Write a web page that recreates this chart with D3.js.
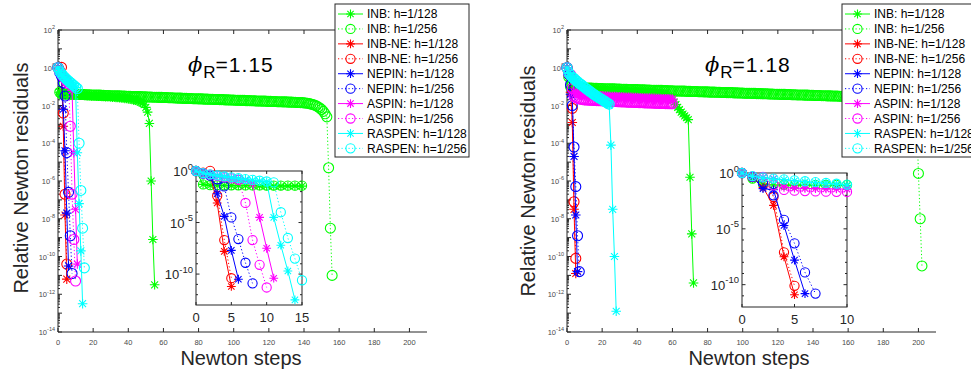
<!DOCTYPE html>
<html>
<head>
<meta charset="utf-8">
<script src="https://cdn.jsdelivr.net/npm/d3@7"></script>
<style>
  body { margin: 0; background: #fff; }
  svg { display: block; }
  text { font-family: "Liberation Sans", Arial, Helvetica, sans-serif; }
</style>
</head>
<body>
<svg id="chart" width="971" height="374"></svg>
<script>
// ---- categories, labels and ticks ----
const methods = ["INB", "INB-NE", "NEPIN", "ASPIN", "RASPEN"];
const meshes = ["h=1/128", "h=1/256"];
const methodColors = ["#00ff00", "#ff0000", "#0000ff", "#ff00ff", "#00ffff"];
const phiValues = ["1.15", "1.18"];
const stepTicks = [0, 20, 40, 60, 80, 100, 120, 140, 160, 180, 200];
const residualTickExps = [2, 0, -2, -4, -6, -8, -10, -12, -14];
const zoomStepTicks115 = [0, 5, 10, 15];
const zoomStepTicks118 = [0, 5, 10];
const zoomResidualTickExps = [0, -5, -10];

// ---- log10 of relative Newton residual, indexed by Newton step ----
// phi_R = 1.15
const inb128_115 = [0,-1.30,-1.40,-1.41,-1.41,-1.42,-1.42,-1.43,-1.43,-1.44,
  -1.44,-1.45,-1.45,-1.46,-1.46,-1.47,-1.47,-1.48,-1.48,-1.49,
  -1.49,-1.50,-1.50,-1.51,-1.51,-1.52,-1.52,-1.53,-1.54,-1.54,
  -1.55,-1.56,-1.56,-1.57,-1.58,-1.59,-1.60,-1.61,-1.62,-1.63,
  -1.65,-1.66,-1.68,-1.70,-1.72,-1.75,-1.78,-1.82,-1.88,-1.96,
  -2.10,-2.35,-2.95,-6.00,-9.10,-11.50];
const inb256_115 = [0,-1.30,-1.38,-1.38,-1.39,-1.39,-1.39,-1.40,-1.40,-1.40,
  -1.41,-1.41,-1.41,-1.42,-1.42,-1.42,-1.43,-1.43,-1.43,-1.44,
  -1.44,-1.44,-1.45,-1.45,-1.45,-1.46,-1.46,-1.47,-1.47,-1.47,
  -1.48,-1.48,-1.48,-1.49,-1.49,-1.49,-1.50,-1.50,-1.50,-1.51,
  -1.51,-1.51,-1.52,-1.52,-1.52,-1.53,-1.53,-1.53,-1.54,-1.54,
  -1.54,-1.55,-1.55,-1.55,-1.56,-1.56,-1.56,-1.57,-1.57,-1.57,
  -1.58,-1.58,-1.58,-1.59,-1.59,-1.59,-1.60,-1.60,-1.61,-1.61,
  -1.61,-1.62,-1.62,-1.62,-1.63,-1.63,-1.63,-1.64,-1.64,-1.64,
  -1.65,-1.65,-1.65,-1.66,-1.66,-1.66,-1.67,-1.67,-1.67,-1.68,
  -1.68,-1.68,-1.69,-1.69,-1.69,-1.70,-1.70,-1.70,-1.71,-1.71,
  -1.71,-1.72,-1.72,-1.72,-1.73,-1.73,-1.73,-1.74,-1.74,-1.74,
  -1.75,-1.75,-1.75,-1.76,-1.76,-1.76,-1.77,-1.77,-1.77,-1.78,
  -1.78,-1.78,-1.79,-1.79,-1.79,-1.80,-1.80,-1.80,-1.81,-1.81,
  -1.81,-1.82,-1.82,-1.82,-1.83,-1.83,-1.84,-1.84,-1.85,-1.85,
  -1.86,-1.87,-1.88,-1.90,-1.92,-1.95,-1.98,-2.02,-2.07,-2.13,
  -2.21,-2.31,-2.44,-2.60,-5.30,-8.50,-11.00];
const inbne128_115 = [0,-0.20,-0.40,-3.10,-7.80,-11.20];
const inbne256_115 = [0,-0.15,0.02,-2.40,-6.70,-10.40];
const nepin128_115 = [0,-0.25,-0.50,-2.20,-4.40,-7.70,-10.50];
const nepin256_115 = [0,-0.25,-0.45,-0.80,-1.50,-4.50,-6.60,-8.90,-10.90];
const aspin128_115 = [0,-0.20,-0.35,-0.50,-0.62,-0.73,-0.83,-0.93,-1.20,-4.50,-7.50,-10.40];
const aspin256_115 = [0,-0.20,-0.35,-0.48,-0.60,-0.72,-0.85,-3.10,-6.70,-9.10,-11.30];
const raspen128_115 = [0,-0.20,-0.33,-0.45,-0.55,-0.65,-0.74,-0.82,-0.90,-0.98,-1.05,-4.50,-7.20,-9.70,-12.50];
const raspen256_115 = [0,-0.20,-0.32,-0.43,-0.53,-0.62,-0.70,-0.78,-0.86,-0.94,-1.02,-1.10,-4.00,-6.50,-8.50,-10.60];

// phi_R = 1.18
const inb128_118 = [0,-0.50,-1.00,-1.08,-1.09,-1.10,-1.10,-1.11,-1.11,-1.12,
  -1.12,-1.13,-1.13,-1.14,-1.14,-1.15,-1.15,-1.16,-1.16,-1.17,
  -1.17,-1.18,-1.18,-1.19,-1.19,-1.20,-1.20,-1.21,-1.21,-1.22,
  -1.22,-1.23,-1.23,-1.24,-1.24,-1.25,-1.25,-1.26,-1.26,-1.27,
  -1.27,-1.28,-1.28,-1.29,-1.29,-1.30,-1.30,-1.31,-1.32,-1.32,
  -1.33,-1.34,-1.35,-1.36,-1.37,-1.38,-1.40,-1.45,-1.52,-1.60,
  -1.70,-1.82,-1.95,-2.10,-2.22,-2.35,-2.45,-2.55,-2.65,-2.75,
  -5.80,-8.80,-11.40];
const inb256_118 = [0,-0.50,-1.00,-1.05,-1.05,-1.06,-1.06,-1.06,-1.07,-1.07,
  -1.07,-1.08,-1.08,-1.08,-1.08,-1.09,-1.09,-1.09,-1.10,-1.10,
  -1.10,-1.11,-1.11,-1.11,-1.11,-1.12,-1.12,-1.12,-1.13,-1.13,
  -1.13,-1.14,-1.14,-1.14,-1.14,-1.15,-1.15,-1.15,-1.16,-1.16,
  -1.16,-1.17,-1.17,-1.17,-1.17,-1.18,-1.18,-1.18,-1.19,-1.19,
  -1.19,-1.20,-1.20,-1.20,-1.20,-1.21,-1.21,-1.21,-1.22,-1.22,
  -1.22,-1.23,-1.23,-1.23,-1.23,-1.24,-1.24,-1.24,-1.25,-1.25,
  -1.25,-1.26,-1.26,-1.26,-1.26,-1.27,-1.27,-1.27,-1.28,-1.28,
  -1.28,-1.29,-1.29,-1.29,-1.29,-1.30,-1.30,-1.30,-1.31,-1.31,
  -1.31,-1.32,-1.32,-1.32,-1.32,-1.33,-1.33,-1.33,-1.34,-1.34,
  -1.34,-1.35,-1.35,-1.35,-1.35,-1.36,-1.36,-1.36,-1.37,-1.37,
  -1.37,-1.38,-1.38,-1.38,-1.38,-1.39,-1.39,-1.39,-1.40,-1.40,
  -1.40,-1.41,-1.41,-1.41,-1.41,-1.42,-1.42,-1.42,-1.43,-1.43,
  -1.43,-1.44,-1.44,-1.44,-1.44,-1.45,-1.45,-1.45,-1.46,-1.46,
  -1.46,-1.47,-1.47,-1.47,-1.47,-1.48,-1.48,-1.48,-1.49,-1.49,
  -1.49,-1.50,-1.50,-1.50,-1.50,-1.51,-1.51,-1.51,-1.52,-1.52,
  -1.52,-1.53,-1.53,-1.53,-1.54,-1.54,-1.54,-1.55,-1.55,-1.56,
  -1.56,-1.57,-1.57,-1.58,-1.58,-1.59,-1.60,-1.60,-1.61,-1.62,
  -1.63,-1.64,-1.65,-1.66,-1.67,-1.69,-1.70,-1.72,-1.74,-1.76,
  -1.79,-1.82,-1.86,-1.90,-1.95,-2.01,-2.09,-2.20,-2.35,-2.60,
  -5.60,-8.00,-10.50];
const inbne128_118 = [0,-0.35,-1.30,-2.90,-7.50,-10.90];
const inbne256_118 = [0,-0.35,-0.40,-2.15,-7.10,-10.10];
const nepin128_118 = [0,-0.35,-1.40,-1.50,-4.70,-7.80,-10.80];
const nepin256_118 = [0,-0.35,-0.90,-2.00,-4.20,-6.30,-8.90,-10.80];
const aspin128_118 = [0,-0.30,-0.40,-0.50,-1.28,-1.35,-1.38,-1.40,-1.42,-1.43,
  -1.44,-1.45,-1.45,-1.46,-1.46,-1.47,-1.47,-1.48,-1.48,-1.49,
  -1.49,-1.50,-1.50,-1.51,-1.51,-1.52,-1.52,-1.53,-1.53,-1.54,
  -1.54,-1.55,-1.55,-1.56,-1.56,-1.56,-1.57,-1.57,-1.58,-1.58,
  -1.58,-1.59,-1.59,-1.60,-1.60,-1.60,-1.61,-1.61,-1.62,-1.62,
  -1.62,-1.63,-1.63,-1.63,-1.64,-1.64,-1.64,-1.65,-1.65,-1.66,-1.66];
const aspin256_118 = [0,-0.30,-0.36,-1.10,-1.52,-1.58,-1.62,-1.65,-1.67,-1.69,
  -1.70,-1.71,-1.71,-1.72,-1.72,-1.73,-1.73,-1.74,-1.74,-1.75,
  -1.75,-1.76,-1.76,-1.77,-1.77,-1.78,-1.78,-1.79,-1.79,-1.80,
  -1.80,-1.81,-1.81,-1.81,-1.82,-1.82,-1.83,-1.83,-1.83,-1.84,
  -1.84,-1.85,-1.85,-1.85,-1.86,-1.86,-1.86,-1.87,-1.87,-1.87,
  -1.88,-1.88,-1.88,-1.89,-1.89,-1.89,-1.90,-1.90,-1.90,-1.91,-1.91];
const raspen128_118 = [0,-0.30,-0.45,-0.55,-0.60,-0.70,-0.78,-0.86,-0.93,-1.00,
  -1.08,-1.15,-1.22,-1.29,-1.36,-1.43,-1.49,-1.55,-1.61,-1.67,
  -1.73,-1.79,-1.85,-1.91,-1.97,-4.10,-7.50,-10.00,-12.90];
const raspen256_118 = [0,-0.28,-0.40,-0.50,-0.57,-0.66,-0.74,-0.82,-0.89,-0.96,
  -1.04,-1.11,-1.18,-1.25,-1.32,-1.39,-1.45,-1.51,-1.57,-1.63,
  -1.69,-1.75,-1.81,-1.87,-1.93];

// ---- layout ----
const panels = [
  {
    phi: phiValues[0],
    logs: [inb128_115, inb256_115, inbne128_115, inbne256_115, nepin128_115,
           nepin256_115, aspin128_115, aspin256_115, raspen128_115, raspen256_115],
    main: { left: 58, right: 427, top: 30, bottom: 332 },
    zoom: { left: 196, right: 302, top: 171, bottom: 305 },
    zoomX: [0, 15], zoomMin: 1e-13, zoomTicks: zoomStepTicks115,
    legend: { left: 335, top: 4 },
    title: { x: 188, y: 72 },
    yLabel: { x: 27.5, y: 178 },
    xLabel: { x: 241, y: 365 }
  },
  {
    phi: phiValues[1],
    logs: [inb128_118, inb256_118, inbne128_118, inbne256_118, nepin128_118,
           nepin256_118, aspin128_118, aspin256_118, raspen128_118, raspen256_118],
    main: { left: 567, right: 936, top: 30, bottom: 332 },
    zoom: { left: 742, right: 847, top: 173, bottom: 307 },
    zoomX: [0, 10], zoomMin: 1e-12, zoomTicks: zoomStepTicks118,
    legend: { left: 842, top: 4 },
    title: { x: 705, y: 72 },
    yLabel: { x: 534.5, y: 181 },
    xLabel: { x: 749, y: 365 }
  }
];

const AXIS = "#262626";
const TICKTEXT = "#4a4a4a";
const svg = d3.select("#chart");
const defs = svg.append("defs");

function buildSeries(logs) {
  const out = [];
  methods.forEach((m, mi) => {
    meshes.forEach((h, hi) => {
      const vals = logs[mi * 2 + hi];
      out.push({
        label: m + ": " + h,
        color: methodColors[mi],
        fine: hi === 1,
        points: vals.map((v, i) => ({ step: i, res: Math.pow(10, v) }))
      });
    });
  });
  return out;
}

function drawMarker(g, fine, cx, cy, color, s) {
  if (fine) {
    g.append("circle").attr("cx", cx).attr("cy", cy).attr("r", s)
      .attr("fill", "none").attr("stroke", color).attr("stroke-width", 1.1);
  } else {
    const k = s * 0.72;
    g.append("path")
      .attr("d", `M${cx - s},${cy}H${cx + s}M${cx},${cy - s}V${cy + s}` +
                 `M${cx - k},${cy - k}L${cx + k},${cy + k}M${cx - k},${cy + k}L${cx + k},${cy - k}`)
      .attr("stroke", color).attr("stroke-width", 1.1).attr("fill", "none");
  }
}

function drawSeries(g, series, x, y, clipId, xmax, size) {
  const line = d3.line().x(d => x(d.step)).y(d => y(d.res));
  series.forEach(s => {
    const sg = g.append("g");
    sg.append("path").datum(s.points)
      .attr("d", line)
      .attr("clip-path", `url(#${clipId})`)
      .attr("fill", "none").attr("stroke", s.color).attr("stroke-width", 1)
      .attr("stroke-dasharray", s.fine ? "1.2 2.3" : null);
    s.points.filter(p => p.step <= xmax).forEach(p => {
      drawMarker(sg, s.fine, x(p.step), y(p.res), s.color, s.fine ? size : size - 0.2);
    });
  });
}

function powLabel(g, x, y, exp, size, supSize, color) {
  const t = g.append("text").attr("x", x).attr("y", y)
    .attr("text-anchor", "end").attr("font-size", size).attr("fill", color);
  t.append("tspan").text("10");
  t.append("tspan").attr("font-size", supSize).attr("dy", -size * 0.5).text(String(exp));
}

function addClip(id, r) {
  defs.append("clipPath").attr("id", id).append("rect")
    .attr("x", r.left).attr("y", r.top)
    .attr("width", r.right - r.left).attr("height", r.bottom - r.top);
}

panels.forEach((p, pi) => {
  const g = svg.append("g");
  const series = buildSeries(p.logs);
  const M = p.main;

  // main axes
  const x = d3.scaleLinear().domain([0, 210]).range([M.left, M.right]);
  const y = d3.scaleLog().domain([1e-14, 1e2]).range([M.bottom, M.top]);
  const frame = g.append("g").attr("stroke", AXIS).attr("stroke-width", 1).attr("fill", "none");
  frame.append("path").attr("d", `M${M.left},${M.top}V${M.bottom}H${M.right}M${M.left},${M.top}H${M.right}`);
  stepTicks.forEach(t => {
    const xx = x(t);
    frame.append("path").attr("d", `M${xx},${M.bottom}v-4M${xx},${M.top}v4`);
    g.append("text").attr("x", xx).attr("y", M.bottom + 13).attr("text-anchor", "middle")
      .attr("font-size", 7.5).attr("fill", TICKTEXT).text(t);
  });
  for (let e = -14; e <= 2; e++) {
    frame.append("path").attr("d", `M${M.left},${y(Math.pow(10, e))}h4`);
    if (e < 2) {
      for (let m = 2; m <= 9; m++) {
        frame.append("path").attr("d", `M${M.left},${y(m * Math.pow(10, e))}h2`);
      }
    }
  }
  residualTickExps.forEach(e => {
    powLabel(g, M.left - 3, y(Math.pow(10, e)) + 3, e, 7.5, 5.5, TICKTEXT);
  });

  // axis labels and title
  g.append("text").attr("transform", `translate(${p.yLabel.x},${p.yLabel.y}) rotate(-90)`)
    .attr("text-anchor", "middle").attr("font-size", 20).attr("fill", AXIS)
    .text("Relative Newton residuals");
  g.append("text").attr("x", p.xLabel.x).attr("y", p.xLabel.y)
    .attr("text-anchor", "middle").attr("font-size", 20).attr("fill", AXIS)
    .text("Newton steps");
  const title = g.append("text").attr("x", p.title.x).attr("y", p.title.y)
    .attr("font-size", 21).attr("fill", "#000");
  title.append("tspan").attr("font-style", "italic")
    .attr("font-family", "'DejaVu Serif', serif").text("\u03D5");
  title.append("tspan").attr("font-size", 17).attr("dy", 6).attr("dx", 1).text("R");
  title.append("tspan").attr("dy", -6).attr("letter-spacing", 1).text("=" + p.phi);

  const clipMain = "clipMain" + pi;
  addClip(clipMain, M);
  drawSeries(g.append("g"), series, x, y, clipMain, Infinity, 5);

  // zoomed inset
  const Z = p.zoom;
  const zx = d3.scaleLinear().domain(p.zoomX).range([Z.left, Z.right]);
  const zy = d3.scaleLog().domain([p.zoomMin, 1]).range([Z.bottom, Z.top]);
  const ig = svg.append("g");
  ig.append("rect").attr("x", Z.left).attr("y", Z.top)
    .attr("width", Z.right - Z.left).attr("height", Z.bottom - Z.top).attr("fill", "#fff");
  const zf = ig.append("g").attr("stroke", AXIS).attr("stroke-width", 1).attr("fill", "none");
  zf.append("rect").attr("x", Z.left).attr("y", Z.top)
    .attr("width", Z.right - Z.left).attr("height", Z.bottom - Z.top);
  p.zoomTicks.forEach(t => {
    const xx = zx(t);
    zf.append("path").attr("d", `M${xx},${Z.bottom}v-3M${xx},${Z.top}v3`);
    ig.append("text").attr("x", xx).attr("y", Z.bottom + 17).attr("text-anchor", "middle")
      .attr("font-size", 13).attr("fill", AXIS).text(t);
  });
  const eMin = Math.round(Math.log10(p.zoomMin));
  for (let e = eMin + 1; e < 0; e++) {
    const yy = zy(Math.pow(10, e));
    const len = zoomResidualTickExps.includes(e) ? 3.5 : 2;
    zf.append("path").attr("d", `M${Z.left},${yy}h${len}M${Z.right},${yy}h${-len}`);
  }
  zoomResidualTickExps.forEach(e => {
    powLabel(ig, Z.left - 3, zy(Math.pow(10, e)) + 5, e, 13, 9.5, AXIS);
  });
  const clipZoom = "clipZoom" + pi;
  addClip(clipZoom, Z);
  drawSeries(ig.append("g"), series, zx, zy, clipZoom, p.zoomX[1], 4.6);

  // legend
  const L = p.legend;
  const lg = svg.append("g");
  lg.append("rect").attr("x", L.left).attr("y", L.top).attr("width", 134).attr("height", 153)
    .attr("fill", "#fff").attr("stroke", AXIS).attr("stroke-width", 1);
  series.forEach((s, i) => {
    const cy = L.top + 10 + i * 14.93;
    lg.append("path").attr("d", `M${L.left + 3},${cy}H${L.left + 28}`)
      .attr("stroke", s.color).attr("stroke-width", 1)
      .attr("stroke-dasharray", s.fine ? "1.2 2.3" : null);
    drawMarker(lg, s.fine, L.left + 15.5, cy, s.color, s.fine ? 4.6 : 4.4);
    lg.append("text").attr("x", L.left + 32).attr("y", cy + 4.3)
      .attr("font-size", 12).attr("fill", "#000").text(s.label);
  });
});
</script>
</body>
</html>
